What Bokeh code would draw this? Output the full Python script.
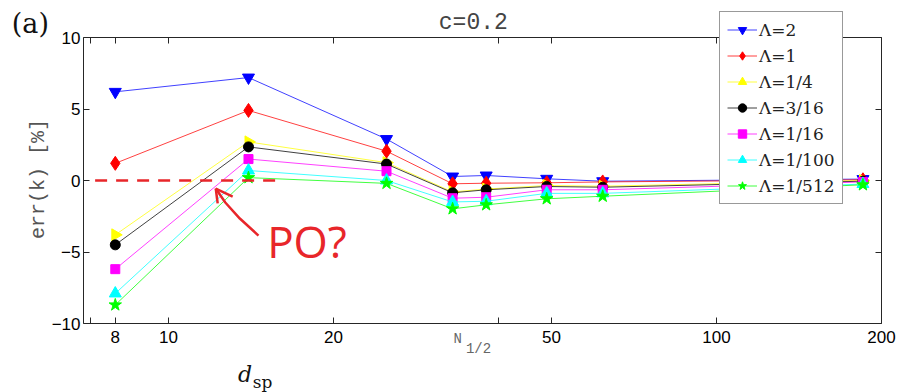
import math
from bokeh.plotting import figure
from bokeh.models import (LogAxis, LinearAxis, FixedTicker, Label, Legend, LegendItem,
                          Range1d)
from bokeh.embed import file_html
from bokeh.resources import INLINE

# ---------------- data ----------------
d_sp = [8, 14, 25, 33, 38, 49, 62, 185]
lam_labels = ["Λ=2", "Λ=1", "Λ=1/4", "Λ=3/16", "Λ=1/16", "Λ=1/100", "Λ=1/512"]
err_lam2 = [6.2, 7.2, 2.9, 0.28, 0.35, 0.12, -0.05, 0.1]
err_lam1 = [1.2, 4.9, 2.05, -0.23, -0.19, -0.16, -0.1, 0.05]
err_lam1_4 = [-3.8, 2.7, 1.25, -0.8, -0.6, -0.35, -0.4, 0.0]
err_lam3_16 = [-4.5, 2.35, 1.15, -0.86, -0.65, -0.42, -0.47, -0.05]
err_lam1_16 = [-6.2, 1.5, 0.65, -1.24, -1.17, -0.65, -0.65, -0.1]
err_lam1_100 = [-7.9, 0.7, 0.0, -1.5, -1.45, -0.9, -0.9, -0.25]
err_lam1_512 = [-8.7, 0.2, -0.2, -1.98, -1.7, -1.28, -1.1, -0.3]
series = [err_lam2, err_lam1, err_lam1_4, err_lam3_16, err_lam1_16, err_lam1_100, err_lam1_512]

x_lim = (7.0, 200.0)
y_lim = (-10.0, 10.0)
x_ticks = [7.2, 8, 10, 20, 40, 50, 100, 200]
x_tick_text = ["", "8", "10", "20", "", "50", "100", "200"]
y_ticks = [-10, -5, 0, 5, 10]

# hand-drawn annotation (data units)
dash_x = [7.35, 16.0]
dash_y = [0, 0]
arrow_x = [14.6, 13.5, 12.7, 12.2]
arrow_y = [-3.85, -2.66, -1.54, -0.56]
head_x = [[12.2, 12.3], [12.2, 13.1]]
head_y = [[-0.56, -1.6], [-0.56, -1.12]]

styles = [
    dict(color="#0000ff", marker="inverted_triangle", size=12, angle=0.0),
    dict(color="#ff0000", marker="diamond", size=14, angle=0.0),
    dict(color="#ffff00", marker="triangle", size=12, angle=-math.pi / 2),
    dict(color="#000000", marker="circle", size=10, angle=0.0),
    dict(color="#ff00ff", marker="square", size=9, angle=0.0),
    dict(color="#00ffff", marker="triangle", size=12, angle=0.0),
    dict(color="#00ff00", marker="star", size=13, angle=0.0),
]

# The frame covers the whole canvas; axes are pinned to the data box.
W, H = 898, 392
FL, FR, FT, FB = 83, 881, 37, 323  # where the axes box sits on the canvas
lx0, lx1 = math.log10(x_lim[0]), math.log10(x_lim[1])
kx = (lx1 - lx0) / (FR - FL)
xr = Range1d(10 ** (lx0 - FL * kx), 10 ** (lx1 + (W - FR) * kx))
ky = (y_lim[1] - y_lim[0]) / (FB - FT)
yr = Range1d(y_lim[0] - (H - FB) * ky, y_lim[1] + FT * ky)

p = figure(width=W, height=H, x_axis_type="log", output_backend="svg",
           toolbar_location=None, x_range=xr, y_range=yr, x_axis_location=None,
           y_axis_location=None, min_border=0)
p.outline_line_color = None
p.background_fill_color = "white"
p.border_fill_color = "white"
p.xgrid.visible = False
p.ygrid.visible = False

AX = "#262626"
def style_axis(ax, show_labels):
    ax.axis_line_color = AX
    ax.major_tick_line_color = AX
    ax.major_tick_in = 6
    ax.major_tick_out = 0
    ax.minor_tick_line_color = None
    ax.major_label_text_font = "Liberation Sans"
    ax.major_label_text_color = "#000000"
    ax.major_label_text_font_size = "17px" if show_labels else "0px"

bottom = LogAxis(ticker=FixedTicker(ticks=x_ticks), fixed_location=y_lim[0], bounds=x_lim)
bottom.major_label_overrides = {t: s for t, s in zip(x_ticks, x_tick_text)}
style_axis(bottom, True)
bottom.major_label_standoff = 7
p.add_layout(bottom, "below")

top = LogAxis(ticker=FixedTicker(ticks=x_ticks), fixed_location=y_lim[1], bounds=x_lim)
top.major_label_overrides = {t: "" for t in x_ticks}
style_axis(top, False)
p.add_layout(top, "above")

left = LinearAxis(ticker=FixedTicker(ticks=y_ticks), fixed_location=x_lim[0], bounds=y_lim)
style_axis(left, True)
left.major_label_standoff = 3
p.add_layout(left, "left")

right = LinearAxis(ticker=FixedTicker(ticks=y_ticks), fixed_location=x_lim[1], bounds=y_lim)
right.major_label_overrides = {t: "" for t in y_ticks}
style_axis(right, False)
p.add_layout(right, "right")

items = []
for ys, lab, st in zip(series, lam_labels, styles):
    r1 = p.line(d_sp, ys, line_color=st["color"], line_width=1, line_alpha=0.75)
    r2 = p.scatter(d_sp, ys, marker=st["marker"], size=st["size"], angle=st["angle"],
                   fill_color=st["color"], line_color=st["color"])
    items.append(LegendItem(label=lab, renderers=[r1, r2]))

legend = Legend(items=items, location=(719, 188))
legend.label_text_font = "DejaVu Serif"
legend.label_text_font_size = "17px"
legend.label_text_color = "#222222"
legend.glyph_width = 30
legend.glyph_height = 21
legend.label_height = 21
legend.spacing = 5
legend.padding = 7
legend.margin = 0
legend.label_standoff = 2
legend.border_line_color = "#333333"
legend.border_line_width = 1
legend.background_fill_color = "white"
legend.background_fill_alpha = 1
p.add_layout(legend, "center")

# red hand annotation
RED = "#e8262a"
p.line(dash_x, dash_y, line_color=RED, line_width=2.5, line_dash="12 9")
p.line(arrow_x, arrow_y, line_color=RED, line_width=2.5)
p.multi_line(head_x, head_y, line_color=RED, line_width=2.5)
p.add_layout(Label(x=17.9, y=-4.2, text="PO?", text_color=RED, text_font="Open Sans",
                   text_font_size="44px", text_align="center", text_baseline="middle"))

# texts
p.add_layout(Label(x=36.0, y=10.98, text="c=0.2", text_font="Liberation Mono",
                   text_font_size="23px", text_color="#444444",
                   text_align="center", text_baseline="middle"))
p.add_layout(Label(x=5.6, y=10.98, text="(a)", text_font="DejaVu Serif",
                   text_font_size="27px", text_color="#111111",
                   text_align="center", text_baseline="middle"))
p.add_layout(Label(x=5.79, y=0.1, text="err(k) [%]", text_font="Liberation Mono",
                   text_font_size="20px", text_color="#555555", angle=math.pi / 2,
                   text_align="center", text_baseline="middle"))
p.add_layout(Label(x=33.7, y=-11.05, text="N", text_font="Liberation Mono",
                   text_font_size="14px", text_color="#666666",
                   text_align="center", text_baseline="middle"))
p.add_layout(Label(x=36.8, y=-11.75, text="1/2", text_font="Liberation Mono",
                   text_font_size="14px", text_color="#666666",
                   text_align="center", text_baseline="middle"))
p.add_layout(Label(x=13.8, y=-13.57, text="d", text_font="DejaVu Serif",
                   text_font_style="italic", text_font_size="22px", text_color="#111111",
                   text_align="center", text_baseline="middle"))
p.add_layout(Label(x=14.85, y=-14.1, text="sp", text_font="DejaVu Serif",
                   text_font_size="17px", text_color="#111111",
                   text_align="center", text_baseline="middle"))

open("out.html", "w").write(file_html(p, INLINE))
